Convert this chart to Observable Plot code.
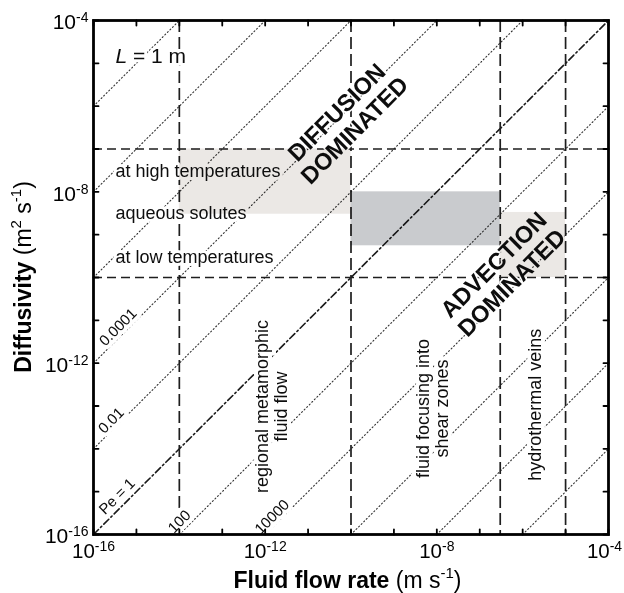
<!DOCTYPE html>
<html>
<head>
<meta charset="utf-8">
<script src="https://cdn.jsdelivr.net/npm/d3@7"></script>
<script src="https://cdn.jsdelivr.net/npm/@observablehq/plot@0.6"></script>
<style>
  html, body { margin: 0; padding: 0; background: #fff; }
  #chart { width: 624px; height: 593px; }
</style>
</head>
<body>
<div id="chart"></div>
<script>
const FONT = "'Liberation Sans', Arial, Helvetica, sans-serif";

// ---- axes (log10 decades) ----
const xDomain = [1e-16, 1e-4];
const yDomain = [1e-16, 1e-4];
const decadeTicks = [1e-16, 1e-15, 1e-14, 1e-13, 1e-12, 1e-11, 1e-10, 1e-9, 1e-8, 1e-7, 1e-6, 1e-5, 1e-4];
const labeledTicks = [1e-16, 1e-12, 1e-8, 1e-4];

// ---- Péclet iso-lines (L = 1 m) ----
const pecletDotted = [1e-10, 1e-8, 1e-6, 1e-4, 1e-2, 1e2, 1e4, 1e6, 1e8, 1e10];
const pecletUnity = [1];
const pecletLabelText = ["0.0001", "0.01", "Pe = 1", "100", "10000"];
const pecletLabelX = [10 ** -15.43, 10 ** -15.59, 10 ** -15.45, 10 ** -14.0, 10 ** -11.84];
const pecletLabelY = [10 ** -11.16, 10 ** -13.34, 10 ** -15.11, 10 ** -15.70, 10 ** -15.59];

// ---- regime boundaries ----
const flowBoundaries = [1e-14, 1e-10, 3e-7, 1e-5];
const diffBoundaries = [1e-7, 1e-10];

// ---- shaded zones ----
const lightZones = [
  {x1: 1e-14, x2: 1e-10, y1: 3e-9, y2: 1e-7},
  {x1: 3e-7, x2: 1e-5, y1: 1e-10, y2: 3.3e-9}
];
const grayZones = [
  {x1: 1e-10, x2: 3e-7, y1: 5.5e-10, y2: 1e-8}
];

// ---- annotations ----
const lengthLabel = [{text: "L = 1 m", x: 10 ** -15.49, y: 10 ** -4.84}];
const diffusivityLabels = [
  {text: "at high temperatures", x: 10 ** -15.49, y: 10 ** -7.51},
  {text: "aqueous solutes", x: 10 ** -15.49, y: 10 ** -8.49},
  {text: "at low temperatures", x: 10 ** -15.49, y: 10 ** -9.52}
];
const flowLabels = [
  {text: "regional metamorphic\nfluid flow", x: 10 ** -11.85, y: 10 ** -13.01},
  {text: "fluid focusing into\nshear zones", x: 10 ** -8.10, y: 10 ** -13.06},
  {text: "hydrothermal veins", x: 10 ** -5.70, y: 10 ** -12.97}
];
const regimeLabels = [
  {text: "DIFFUSION\nDOMINATED", x: 10 ** -10.13, y: 10 ** -6.35},
  {text: "ADVECTION\nDOMINATED", x: 10 ** -6.47, y: 10 ** -9.91}
];

// line endpoints clipped to the frame: D = v / Pe
function pecletSegments(list) {
  return list.flatMap(pe => {
    const v0 = Math.max(xDomain[0], pe * yDomain[0]);
    const v1 = Math.min(xDomain[1], pe * yDomain[1]);
    return [{pe, v: v0, D: v0 / pe}, {pe, v: v1, D: v1 / pe}];
  });
}
const pecletLabels = pecletLabelText.map((t, i) => ({text: t, x: pecletLabelX[i], y: pecletLabelY[i]}));

const tickShape = {draw(ctx, l) { ctx.moveTo(0, 0); ctx.lineTo(0, -l); }};
const expFormat = d => "10^" + Math.round(Math.log10(d));

function halo(data, opts, w) {
  return Plot.text(data, {x: "x", y: "y", text: "text", fill: "none", stroke: "white", strokeWidth: w, strokeLinejoin: "round", ...opts});
}
function label(data, opts) {
  return Plot.text(data, {x: "x", y: "y", text: "text", fill: "#0d0d0d", ...opts});
}

const peOpts = {rotate: -45, fontSize: 15, textAnchor: "middle", lineAnchor: "middle"};
const diffOpts = {fontSize: 18, textAnchor: "start", lineAnchor: "middle"};
const flowOpts = {rotate: -90, fontSize: 18, textAnchor: "middle", lineAnchor: "middle", lineHeight: 1.02};
const regimeOpts = {rotate: -45, fontSize: 23.5, fontWeight: "bold", textAnchor: "middle", lineAnchor: "middle", lineHeight: 1.08};
const lenOpts = {fontSize: 21, textAnchor: "start", lineAnchor: "middle"};

const plot = Plot.plot({
  width: 624,
  height: 593,
  marginLeft: 93,
  marginRight: 16,
  marginTop: 20,
  marginBottom: 59,
  style: {fontFamily: FONT, background: "white", color: "black"},
  x: {type: "log", domain: xDomain, label: null, axis: null},
  y: {type: "log", domain: yDomain, label: null, axis: null},
  marks: [
    // iso-Péclet lines
    Plot.line(pecletSegments(pecletDotted), {x: "v", y: "D", z: "pe", stroke: "#333", strokeWidth: 1.1, strokeDasharray: "1.1,2.5"}),
    Plot.line(pecletSegments(pecletUnity), {x: "v", y: "D", z: "pe", stroke: "#1a1a1a", strokeWidth: 1.6, strokeDasharray: "7,3,1.6,3"}),
    // regime boundaries
    Plot.ruleX(flowBoundaries, {stroke: "#1e1e1e", strokeWidth: 1.7, strokeDasharray: "12,5"}),
    Plot.ruleY(diffBoundaries, {stroke: "#1e1e1e", strokeWidth: 1.7, strokeDasharray: "9,5"}),
    // white halos that break the lines beneath the labels
    halo(pecletLabels, peOpts, 8),
    halo(diffusivityLabels, diffOpts, 6),
    halo(flowLabels, flowOpts, 8),
    halo(regimeLabels, regimeOpts, 3),
    halo(lengthLabel, lenOpts, 6),
    // shaded zones (multiplied so lines stay visible through them)
    Plot.rect(lightZones, {x1: "x1", x2: "x2", y1: "y1", y2: "y2", fill: "#ebe8e5", mixBlendMode: "multiply", ariaLabel: "zone"}),
    Plot.rect(grayZones, {x1: "x1", x2: "x2", y1: "y1", y2: "y2", fill: "#c9cbce", mixBlendMode: "multiply", ariaLabel: "zone"}),
    // labels
    label(pecletLabels, peOpts),
    label(diffusivityLabels, diffOpts),
    label(flowLabels, flowOpts),
    label(regimeLabels, regimeOpts),
    label(lengthLabel, lenOpts),
    // frame and inward ticks on all four sides
    Plot.frame({stroke: "black", strokeWidth: 2.8}),
    Plot.vector(decadeTicks, {x: d => d, frameAnchor: "bottom", length: 5, rotate: 0, anchor: "start", shape: tickShape, stroke: "black", strokeWidth: 1.8}),
    Plot.vector(decadeTicks, {x: d => d, frameAnchor: "top", length: 5, rotate: 180, anchor: "start", shape: tickShape, stroke: "black", strokeWidth: 1.8}),
    Plot.vector(decadeTicks, {y: d => d, frameAnchor: "left", length: 5, rotate: 90, anchor: "start", shape: tickShape, stroke: "black", strokeWidth: 1.8}),
    Plot.vector(decadeTicks, {y: d => d, frameAnchor: "right", length: 5, rotate: -90, anchor: "start", shape: tickShape, stroke: "black", strokeWidth: 1.8}),
    Plot.axisX({ticks: labeledTicks, tickSize: 0, tickPadding: 9, tickFormat: expFormat, fontSize: 20.5, label: null, anchor: "bottom", ariaLabel: "x-tick-labels"}),
    Plot.axisY({ticks: labeledTicks, tickSize: 0, tickPadding: 5, tickFormat: expFormat, fontSize: 21, label: null, anchor: "left", dy: 2})
  ]
});

const svgNS = "http://www.w3.org/2000/svg";
const xMaxExp = String(Math.round(Math.log10(xDomain[1])));
// superscript exponents in tick labels, italic L
plot.querySelectorAll("text").forEach(t => {
  const m = /^10\^(-?\d+)$/.exec(t.textContent);
  if (m) {
    const isX = !!t.closest('g[aria-label^="x-"]');
    t.textContent = "";
    const base = document.createElementNS(svgNS, "tspan");
    base.textContent = "10";
    const sup = document.createElementNS(svgNS, "tspan");
    sup.setAttribute("dy", "-7");
    sup.setAttribute("font-size", "14");
    sup.textContent = m[1];
    t.appendChild(base);
    t.appendChild(sup);
    if (isX && m[1] === xMaxExp) t.setAttribute("dx", "-4");
  } else if (t.textContent === "L = 1 m") {
    t.textContent = "";
    const it = document.createElementNS(svgNS, "tspan");
    it.setAttribute("font-style", "italic");
    it.textContent = "L";
    const rest = document.createElementNS(svgNS, "tspan");
    rest.textContent = " = 1 m";
    t.appendChild(it);
    t.appendChild(rest);
  }
});
// ensure multiply blending on zones
plot.querySelectorAll('g[aria-label="zone"]').forEach(g => g.style.mixBlendMode = "multiply");

// axis titles with bold names and superscript units
const xs = plot.scale("x"), ys = plot.scale("y");
const cx = (xs.range[0] + xs.range[1]) / 2;
const cy = (ys.range[0] + ys.range[1]) / 2;
const svg = d3.select(plot);

const xt = svg.append("text")
  .attr("x", cx - 3).attr("y", 588)
  .attr("text-anchor", "middle").attr("font-size", 23).attr("fill", "black");
xt.append("tspan").attr("font-weight", "bold").text("Fluid flow rate");
xt.append("tspan").text(" (m s");
xt.append("tspan").attr("dy", -10).attr("font-size", 15).text("-1");
xt.append("tspan").attr("dy", 10).text(")");

const yt = svg.append("text")
  .attr("transform", `translate(31,${cy}) rotate(-90)`)
  .attr("text-anchor", "middle").attr("font-size", 23).attr("fill", "black");
yt.append("tspan").attr("font-weight", "bold").text("Diffusivity");
yt.append("tspan").text(" (m");
yt.append("tspan").attr("dy", -10).attr("font-size", 15).text("2");
yt.append("tspan").attr("dy", 10).text(" s");
yt.append("tspan").attr("dy", -10).attr("font-size", 15).text("-1");
yt.append("tspan").attr("dy", 10).text(")");

document.getElementById("chart").appendChild(plot);
</script>
</body>
</html>
